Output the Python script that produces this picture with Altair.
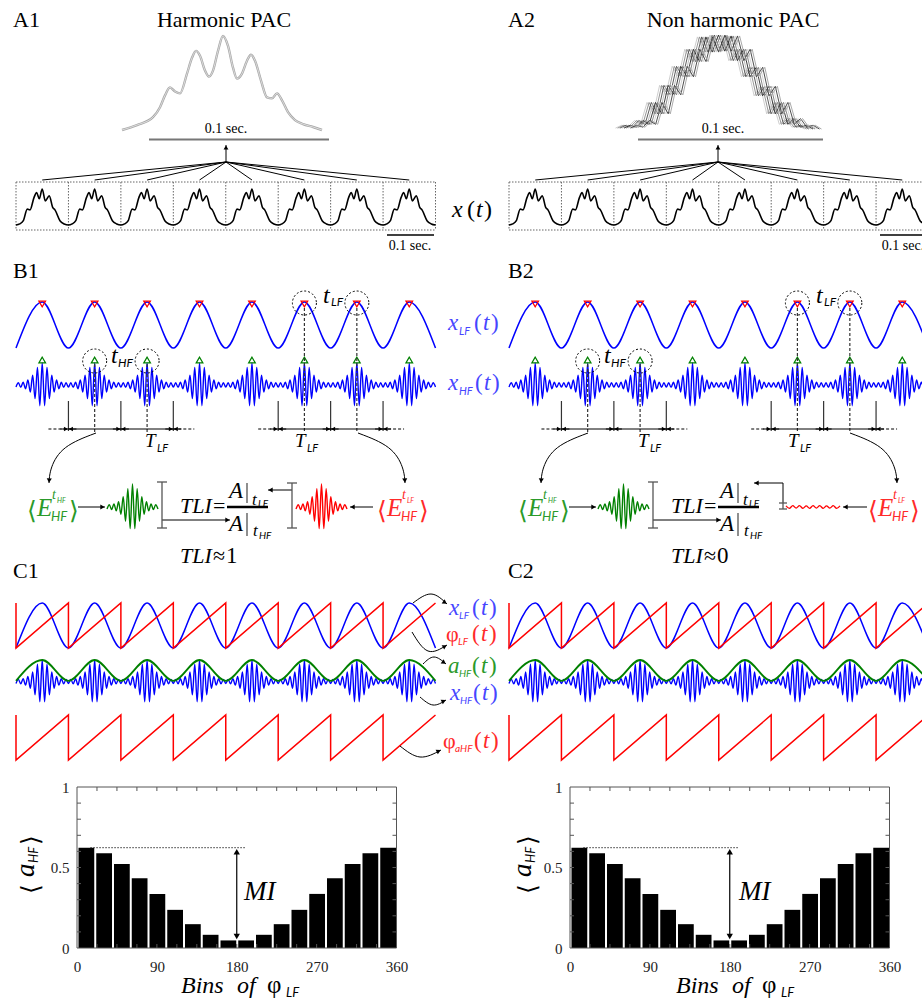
import math
import altair as alt
import pandas as pd

# ================= values =================
n_cycles = 8  # low-frequency cycles shown in every trace

# A1: averaged cycle (grey trace above the boxes): phase in cycle / normalised amplitude
avg_phase = [0, .075, .155, .19, .215, .24, .265, .29, .325, .35, .37, .39, .415, .435,
             .455, .48, .505, .53, .555, .575, .6, .625, .645, .665, .695, .725, .75,
             .775, .80, .83, .865, .905, .955, 1.0]
avg_amp = [0, .053, .137, .242, .368, .453, .41, .39, .60, .768, .842, .79, .632, .568,
           .632, .842, 1.0, .895, .663, .547, .60, .737, .80, .737, .526, .347, .337,
           .39, .316, .189, .105, .063, .032, 0]
# A1/A2: one cycle of x(t) inside each dotted box
cyc_phase = [0, .07, .14, .215, .267, .343, .394, .444, .50, .558, .634, .70, .743, .838, .92, 1.0]
cyc_amp = [0, .03, .12, .44, .42, .76, .90, .73, 1.0, .67, .81, .49, .42, .12, .03, 0]
# A2: averaged cycle for non harmonic PAC (31 samples) and phase jitter of the overlaid cycles
nh_amp = [0.02, 0.05, 0.03, 0.10, 0.06, 0.29, 0.17, 0.47, 0.37, 0.67, 0.56, 0.85, 0.72,
          0.98, 0.82, 1.00, 0.83, 0.99, 0.73, 0.85, 0.56, 0.66, 0.36, 0.46, 0.17, 0.29,
          0.06, 0.12, 0.03, 0.05, 0.01]
nh_shift = [-0.045, -0.034, -0.022, -0.011, 0.0, 0.011, 0.022, 0.034, 0.045]
# B/C: x_LF extrema (trough, peak)
lf_extrema = [-1.0, 1.0]
# B/C: x_HF half-oscillation amplitudes within one LF cycle (from the LF trough)
hf_env = [0.09, 0.10, 0.11, 0.13, 0.17, 0.23, 0.32, 0.45, 0.62, 0.80, 0.94, 1.00,
          0.94, 0.80, 0.62, 0.45, 0.32, 0.23, 0.17, 0.13, 0.11, 0.10]
# C: a_HF(t) extrema (trough, peak)
ahf_extrema = [0.03, 1.0]
# C: wrapped phase range (degrees)
phase_span = [-180, 180]
# B2: residual red trace
flat_hf = [0.05, -0.06, 0.06, -0.05, 0.06, -0.06, 0.05, -0.06, 0.06, -0.05, 0.06, -0.06,
           0.05, -0.05, 0.06, -0.06, 0.05]
# C1/C2 histogram: bins of phi_LF and mean a_HF
bin_edges = list(range(0, 361, 20))
ahf_mean = [0.623, 0.588, 0.522, 0.433, 0.336, 0.237, 0.148, 0.082, 0.047, 0.047, 0.082,
            0.148, 0.237, 0.336, 0.433, 0.522, 0.588, 0.623]

# ================= layout / style =================
W, H = 922, 1000
DX = 493          # offset of the right column
DXB = 491         # offset of the B2 formula row
X0, X1 = 16.0, 435.5
P = (X1 - X0) / n_cycles
SERIF, SANS, SYM = "Liberation Serif", "Lato", "DejaVu Sans"
BLUE, RED, GREEN = "#0000ff", "#ff0000", "#008000"
TBLUE, TRED, TGREEN = "#4646ff", "#ff2a2a", "#2a9a2a"
GREYS = ["#c8c8c8", "#8a8a8a", "#4a4a4a", "#b4b4b4", "#262626", "#7a7a7a", "#d0d0d0", "#3a3a3a", "#a0a0a0"]


def tx(t, dx=0):
    return X0 + dx + t * P


def lin(dom, rng):
    return alt.Scale(domain=list(dom), range=list(rng), nice=False, zero=False)


def PXX():
    return lin([0, W], [0, W])


def PXY():
    return lin([0, H], [0, H])


def tscale(dx):
    return lin([0, n_cycles], [X0 + dx, X1 + dx])


# ================= tables =================
nh = 2 * n_cycles + 1
lf_df = pd.DataFrame({"t": [j * 0.5 for j in range(nh)], "v": [lf_extrema[j % 2] for j in range(nh)]})
ahf_df = pd.DataFrame({"t": [j * 0.5 for j in range(nh)], "v": [ahf_extrema[j % 2] for j in range(nh)]})
rows = []
for k in range(n_cycles):
    for m, e in enumerate(hf_env):
        rows.append({"t": k + m / len(hf_env), "v": (1 if m % 2 else -1) * e})
rows.append({"t": n_cycles, "v": -hf_env[0]})
hf_df = pd.DataFrame(rows)
burst_df = pd.DataFrame([{"p": m / len(hf_env), "v": (1 if m % 2 else -1) * e} for m, e in enumerate(hf_env)]
                        + [{"p": 1.0, "v": -hf_env[0]}])
flat_df = pd.DataFrame({"p": [i / (len(flat_hf) - 1) for i in range(len(flat_hf))], "v": flat_hf})
rows = []
for k in range(n_cycles):
    rows.append({"t": k, "v": phase_span[1], "o": 2 * k})
    rows.append({"t": k, "v": phase_span[0], "o": 2 * k + 1})
rows.append({"t": n_cycles, "v": phase_span[1], "o": 2 * n_cycles})
saw_df = pd.DataFrame(rows)
rows = []
for k in range(n_cycles):
    for i, (p, a) in enumerate(zip(cyc_phase, cyc_amp)):
        if k > 0 and i == 0:
            continue
        rows.append({"t": k + p, "v": a})
cyc_df = pd.DataFrame(rows)
avg_df = pd.DataFrame({"p": avg_phase, "v": avg_amp})
rows = []
for g, s in enumerate(nh_shift):
    for i, a in enumerate(nh_amp):
        rows.append({"g": g, "p": i / (len(nh_amp) - 1) + s, "v": a, "c": GREYS[g % len(GREYS)]})
nh_df = pd.DataFrame(rows)
hist_df = pd.DataFrame({"lo": bin_edges[:-1], "hi": bin_edges[1:], "v": ahf_mean})

outer = []
inner = []


def sig(df, xdom, xr, ydom, yr, color=None, width=1.4, interp="monotone", detail=None,
        order=None, colorfield=None, x="t", y="v"):
    props = {"strokeWidth": width, "interpolate": interp}
    if color:
        props["color"] = color
    enc = {"x": alt.X(f"{x}:Q", scale=lin(xdom, xr), axis=None),
           "y": alt.Y(f"{y}:Q", scale=lin(ydom, yr), axis=None)}
    if detail:
        enc["detail"] = alt.Detail(f"{detail}:N")
    if order:
        enc["order"] = alt.Order(f"{order}:Q")
    if colorfield:
        enc["color"] = alt.Color(f"{colorfield}:N", scale=None)
    outer.append(alt.Chart(df).mark_line(**props).encode(**enc))


def tpoints(ts, dx, y, **mark):
    outer.append(alt.Chart(pd.DataFrame({"t": ts})).mark_point(opacity=1, **mark).encode(
        x=alt.X("t:Q", scale=tscale(dx), axis=None), y=alt.value(y)))


def trules(ts, dx, y1, y2, **mark):
    outer.append(alt.Chart(pd.DataFrame({"t": ts})).mark_rule(**mark).encode(
        x=alt.X("t:Q", scale=tscale(dx), axis=None), y=alt.value(y1), y2=alt.value(y2)))


def thline(a, b, dx, y, **mark):
    outer.append(alt.Chart(pd.DataFrame({"a": [a], "b": [b]})).mark_rule(**mark).encode(
        x=alt.X("a:Q", scale=tscale(dx), axis=None), x2="b:Q", y=alt.value(y)))


LINES, HEADS, TXT = {}, [], {}


def line(pts, color="black", width=1.0, dash=None, interp="linear"):
    LINES.setdefault((color, width, tuple(dash) if dash else None, interp), []).append(pts)


def arrow(pts, color="black", width=1.0, dash=None, interp="linear", ang=None, size=26):
    line(pts, color, width, dash, interp)
    (x1, y1), (x2, y2) = pts[-2], pts[-1]
    if ang is None:
        ang = math.degrees(math.atan2(y2 - y1, x2 - x1))
    r = math.radians(ang)
    HEADS.append({"x": x2 - 2.5 * math.cos(r), "y": y2 - 2.5 * math.sin(r), "a": ang % 360, "c": color, "z": size})


def txt(s, x, y, size, color="black", kind="mi", align="left", ang=0):
    TXT.setdefault((kind, align), []).append({"s": s, "x": x, "y": y, "z": size, "c": color, "a": ang})


def sub(s, x, y, size, color="black", ang=0):
    txt(s, x, y, size, color, "sub", ang=ang)


def bracket(x, y1, y2, c=5):
    line([(x - c, y1), (x + c, y1)], "#555", 1.3)
    line([(x, y1), (x, y2)], "#555", 1.3)
    line([(x - c, y2), (x + c, y2)], "#555", 1.3)


def paren_t(x, y, size, color):
    txt("(", x, y, size, color, "mu")
    txt("t", x + 9, y, size, color, "mi")
    txt(")", x + 17, y, size, color, "mu")


# ================= A panels =================
txt("A1", 13, 27, 22, kind="serif")
txt("Harmonic PAC", 224, 27, 22, kind="serif", align="center")
txt("A2", 508, 27, 22, kind="serif")
txt("Non harmonic PAC", 733, 27, 22, kind="serif", align="center")

sig(avg_df, [0, 1], [122, 322], [0, 1], [130, 36], color="#a8a8a8", width=2.4, x="p")
sig(avg_df, [0, 1], [122, 322], [0, 1], [130, 36], color="#e2e2e2", width=0.9, x="p")
sig(nh_df, [0, 1], [624, 813], [0, 1], [130, 35], width=0.9, x="p", detail="g", colorfield="c",
    interp="linear")

for dx, bar, apex, lab in [(0, (149, 329), 226, 226), (DX, (638, 823), 718, 723)]:
    line([(bar[0], 139.5), (bar[1], 139.5)], "#777", 2)
    txt("0.1 sec.", lab, 133, 14, kind="serif", align="center")
    arrow([(apex, 162), (apex, 145)], size=24)
    for k in range(n_cycles):
        line([(apex, 162), (tx(k + 0.5, dx), 180)], "black", 1.0)
    trules(list(range(n_cycles + 1)), dx, 182, 230, color="#666", strokeDash=[1.5, 1.5], strokeWidth=1)
    thline(0, n_cycles, dx, 182, color="#666", strokeDash=[1.5, 1.5], strokeWidth=1)
    thline(0, n_cycles, dx, 230, color="#666", strokeDash=[1.5, 1.5], strokeWidth=1)
    sig(cyc_df, [0, n_cycles], [X0 + dx, X1 + dx], [0, 1], [225, 189], color="black", width=1.6)
    line([(387 + dx, 235), (434 + dx, 235)], "black", 1.5)
    txt("0.1 sec.", 410 + dx, 250, 14, kind="serif", align="center")

txt("x", 452, 217, 24)
paren_t(467, 217, 24, "black")

# ================= B panels =================
txt("B1", 13, 278, 22, kind="serif")
txt("B2", 508, 278, 22, kind="serif")
peaks = [k + 0.5 for k in range(n_cycles)]
for dx in [0, DX]:
    sig(lf_df, [0, n_cycles], [X0 + dx, X1 + dx], [-1, 1], [348, 302], color=BLUE, width=1.5)
    sig(hf_df, [0, n_cycles], [X0 + dx, X1 + dx], [-1, 1], [407, 363], color=BLUE, width=1.4)
    tpoints(peaks, dx, 304, shape="triangle-down", filled=False, color=RED, size=45, strokeWidth=1.2)
    tpoints(peaks, dx, 360, shape="triangle-up", filled=False, color=GREEN, size=45, strokeWidth=1.2)
    tpoints([5.5, 6.5], dx, 303, shape="circle", filled=False, color="black", size=576,
            strokeDash=[2, 2], strokeWidth=1)
    tpoints([1.5, 2.5], dx, 361, shape="circle", filled=False, color="black", size=576,
            strokeDash=[2, 2], strokeWidth=1)
    trules([1, 2, 3, 5, 6, 7], dx, 401, 431, color="#333", strokeWidth=1.2)
    trules([1.5, 2.5], dx, 364, 432, color="#333", strokeDash=[3, 2], strokeWidth=1.2)
    trules([5.5, 6.5], dx, 308, 432, color="#333", strokeDash=[3, 2], strokeWidth=1.2)
    for a, b in [(1, 3), (5, 7)]:
        line([(tx(a, dx) - 20, 429), (tx(a, dx), 429)], "black", 1.0, [3, 2])
        line([(tx(b, dx), 429), (tx(b, dx) + 21, 429)], "black", 1.0, [3, 2])
        line([(tx(a, dx), 429), (tx(b, dx), 429)], "black", 1.0)
        for t in range(a, b + 1):
            arrow([(tx(t, dx) - 8, 429), (tx(t, dx), 429)], size=22)
            arrow([(tx(t, dx) + 8, 429), (tx(t, dx), 429)], size=22)
    txt("t", 323 + dx, 303, 24)
    sub("LF", 331 + dx, 306, 12)
    txt("t", 111 + dx, 363, 24)
    sub("HF", 118 + dx, 367, 12)
    txt("T", 145 + dx, 447, 19)
    sub("LF", 157 + dx, 452, 11)
    txt("T", 295 + dx, 447, 19)
    sub("LF", 307 + dx, 452, 11)
    s = 0 if dx == 0 else DX - 1
    arrow([(96 + s, 433), (62 + s, 446), (50 + s, 468), (49 + s, 483)], interp="basis")
    arrow([(358 + s, 433), (392 + s, 446), (404 + s, 468), (405 + s, 483)], interp="basis")

txt("x", 448, 330, 23, TBLUE)
sub("LF", 459, 335, 11, TBLUE)
paren_t(474, 330, 23, TBLUE)
txt("x", 448, 390, 23, TBLUE)
sub("HF", 459, 395, 11, TBLUE)
paren_t(475, 390, 23, TBLUE)


def e_expr(x0, color, sup):
    txt("⟨", x0, 519, 25, color, "sym")
    txt("E", x0 + 10, 516, 25, color)
    txt("t", x0 + 25, 499, 14, color)
    sub(sup, x0 + 30, 503, 7, color)
    sub("HF", x0 + 24, 521, 13, color)
    txt("⟩", x0 + 42, 519, 25, color, "sym")


for dx, harmonic in [(0, True), (DXB, False)]:
    e_expr(27 + dx, TGREEN, "HF")
    arrow([(78 + dx, 507), (105 + dx, 507)])
    sig(burst_df, [0, 1], [107 + dx, 158 + dx], [-1, 1], [530, 484], color=GREEN, width=1.4, x="p")
    bracket(162 + dx, 482, 528)
    arrow([(162 + dx, 520), (230 + dx, 520)])
    txt("TLI", 180 + dx, 513, 22)
    txt("=", 213 + dx, 513, 22, kind="mu")
    line([(227 + dx, 507), (268 + dx, 507)], "black", 2.5)
    txt("A", 229 + dx, 498, 23)
    line([(247 + dx, 483), (247 + dx, 503)], "#444", 1.2)
    txt("t", 252 + dx, 505, 17)
    sub("LF", 258 + dx, 507, 10)
    txt("A", 229 + dx, 531, 23)
    line([(247 + dx, 513), (247 + dx, 536)], "#444", 1.2)
    txt("t", 253 + dx, 536, 17)
    sub("HF", 259 + dx, 539, 10)
    txt("TLI", 180 + dx, 563, 22)
    txt("≈", 213 + dx, 563, 22, kind="mu")
    txt("1" if harmonic else "0", 226 + dx, 563, 23, kind="mu")
    if harmonic:
        bracket(292 + dx, 483, 528)
        arrow([(292 + dx, 490), (268 + dx, 490)])
        sig(burst_df, [0, 1], [296 + dx, 347 + dx], [-1, 1], [530, 484], color=RED, width=1.4, x="p")
        arrow([(373 + dx, 507), (350 + dx, 507)])
    else:
        bracket(292 + dx, 503, 509, c=4)
        arrow([(292 + dx, 503), (292 + dx, 483), (263 + dx, 483)])
        sig(flat_df, [0, 1], [295 + dx, 349 + dx], [-1, 1], [530, 484], color=RED, width=1.3, x="p")
        arrow([(376 + dx, 507), (352 + dx, 507)])
    e_expr(377 + dx, TRED, "LF")

# ================= C panels =================
txt("C1", 13, 578, 22, kind="serif")
txt("C2", 508, 578, 22, kind="serif")
for dx in [0, DX]:
    xr = [X0 + dx, X1 + dx]
    sig(lf_df, [0, n_cycles], xr, [-1, 1], [648, 603], color=BLUE, width=1.5)
    sig(saw_df, [0, n_cycles], xr, phase_span, [648, 603], color=RED, width=1.5, interp="linear", order="o")
    sig(hf_df, [0, n_cycles], xr, [-1, 1], [703, 660], color=BLUE, width=1.4)
    sig(ahf_df, [0, n_cycles], xr, [-1, 1], [703, 660], color=GREEN, width=1.8)
    sig(saw_df, [0, n_cycles], xr, phase_span, [760, 715], color=RED, width=1.5, interp="linear", order="o")

txt("x", 449, 615, 23, TBLUE)
sub("LF", 459, 619, 10, TBLUE)
paren_t(472, 615, 23, TBLUE)
txt("φ", 446, 641, 22, TRED, "phi")
sub("LF", 458, 645, 10, TRED)
paren_t(472, 641, 23, TRED)
txt("a", 448, 673, 23, TGREEN)
sub("HF", 459, 677, 10, TGREEN)
paren_t(472, 673, 23, TGREEN)
txt("x", 450, 700, 23, TBLUE)
sub("HF", 460, 704, 10, TBLUE)
paren_t(473, 700, 23, TBLUE)
txt("φ", 443, 748, 22, TRED, "phi")
sub("aHF", 455, 752, 10, TRED)
paren_t(474, 748, 23, TRED)
arrow([(413, 603), (431, 594), (447, 604)], interp="natural", ang=35)
arrow([(412, 632), (428, 651), (447, 645)], interp="natural", ang=330)
arrow([(423, 664), (434, 657), (446, 664)], interp="natural", ang=35)
arrow([(420, 697), (433, 705), (446, 700)], interp="natural", ang=335)
arrow([(400, 746), (420, 757), (441, 750)], interp="natural", ang=335)

# ================= histograms =================
YTOP, YBOT = 787, 948
for dx in [0, DX]:
    xs = lambda: lin([0, 360], [77 + dx, 396.5 + dx])
    ys = lambda: lin([0, 1], [YBOT, YTOP])
    xaxis = alt.Axis(orient="bottom", offset=YBOT - H, values=[0, 90, 180, 270, 360], domain=False,
                     ticks=False, tickSize=0, labelPadding=11, labelFont=SERIF, labelFontSize=15,
                     labelColor="#222", grid=False, title=None, labelFlush=False, labelOverlap=False)
    yaxis = alt.Axis(orient="left", offset=-(77 + dx), values=[0, 0.5, 1], format="~g", domain=False,
                     ticks=False, tickSize=0, labelPadding=8, labelFont=SERIF, labelFontSize=15,
                     labelColor="#222", grid=False, title=None, labelFlush=False, labelOverlap=False)
    outer.append(alt.Chart(hist_df).mark_bar(color="black", binSpacing=2).encode(
        x=alt.X("lo:Q", bin="binned", scale=xs(), axis=xaxis), x2="hi:Q",
        y=alt.Y("v:Q", scale=ys(), axis=yaxis)))
    outer.append(alt.Chart(pd.DataFrame({"a": [0], "b": [360], "c": [0], "d": [1]})).mark_rect(
        filled=False, color="#555", strokeWidth=1).encode(
        x=alt.X("a:Q", scale=xs(), axis=None), x2="b:Q", y=alt.Y("c:Q", scale=ys(), axis=None), y2="d:Q"))
    yt = [i / 10 for i in range(1, 10)]
    xt = [i * 22.5 for i in range(1, 16)]
    for xv, off in [(0, 2), (360, -2)]:
        outer.append(alt.Chart(pd.DataFrame({"x": [xv] * len(yt), "y": yt})).mark_tick(
            orient="horizontal", size=4, thickness=1, xOffset=off, color="#555", opacity=1).encode(
            x=alt.X("x:Q", scale=xs(), axis=None), y=alt.Y("y:Q", scale=ys(), axis=None)))
    for yv, off in [(0, -2), (1, 2)]:
        outer.append(alt.Chart(pd.DataFrame({"x": xt, "y": [yv] * len(xt)})).mark_tick(
            orient="vertical", size=4, thickness=1, yOffset=off, color="#555", opacity=1).encode(
            x=alt.X("x:Q", scale=xs(), axis=None), y=alt.Y("y:Q", scale=ys(), axis=None)))
    top, low = max(ahf_mean), min(ahf_mean)
    outer.append(alt.Chart(pd.DataFrame({"a": [15], "b": [190], "y": [top]})).mark_rule(
        color="#333", strokeDash=[1.5, 1.5], strokeWidth=1).encode(
        x=alt.X("a:Q", scale=xs(), axis=None), x2="b:Q", y=alt.Y("y:Q", scale=ys(), axis=None)))
    outer.append(alt.Chart(pd.DataFrame({"x": [180], "a": [top - 0.03], "b": [low + 0.03]})).mark_rule(
        color="black", strokeWidth=1.2).encode(
        x=alt.X("x:Q", scale=xs(), axis=None), y=alt.Y("a:Q", scale=ys(), axis=None), y2="b:Q"))
    outer.append(alt.Chart(pd.DataFrame({"x": [180], "y": [top]})).mark_point(
        shape="triangle-up", filled=True, color="black", size=40, opacity=1, yOffset=4).encode(
        x=alt.X("x:Q", scale=xs(), axis=None), y=alt.Y("y:Q", scale=ys(), axis=None)))
    outer.append(alt.Chart(pd.DataFrame({"x": [180], "y": [low]})).mark_point(
        shape="triangle-down", filled=True, color="black", size=40, opacity=1, yOffset=-4).encode(
        x=alt.X("x:Q", scale=xs(), axis=None), y=alt.Y("y:Q", scale=ys(), axis=None)))

for dx in [0, 495]:
    txt("MI", 244 + dx, 900, 27)
    txt("Bins", 181 + dx, 993, 24)
    txt("of", 237 + dx, 993, 24)
    txt("φ", 267 + dx, 993, 25, kind="phi")
    sub("LF", 286 + dx, 997, 13)
for dx in [0, 497]:
    txt("⟨", 39 + dx, 894, 25, kind="sym", ang=270)
    txt("a", 34 + dx, 877, 27, ang=270)
    sub("HF", 38 + dx, 863, 13, ang=270)
    txt("⟩", 39 + dx, 845, 25, kind="sym", ang=270)

# ================= pixel-space annotation layers =================
for (color, width, dash, interp), polys in LINES.items():
    rows = [{"g": g, "o": o, "x": x, "y": y} for g, poly in enumerate(polys) for o, (x, y) in enumerate(poly)]
    props = dict(color=color, strokeWidth=width, interpolate=interp)
    if dash:
        props["strokeDash"] = list(dash)
    inner.append(alt.Chart(pd.DataFrame(rows)).mark_line(**props).encode(
        x=alt.X("x:Q", scale=PXX(), axis=None), y=alt.Y("y:Q", scale=PXY(), axis=None),
        detail="g:N", order="o:Q"))
inner.append(alt.Chart(pd.DataFrame(HEADS)).mark_point(shape="triangle-right", filled=True, opacity=1).encode(
    x=alt.X("x:Q", scale=PXX(), axis=None), y=alt.Y("y:Q", scale=PXY(), axis=None),
    angle=alt.Angle("a:Q", scale=None), color=alt.Color("c:N", scale=None), size=alt.Size("z:Q", scale=None)))
FONTS = {"serif": (SERIF, "normal"), "mi": (SERIF, "italic"), "mu": (SERIF, "normal"),
         "sub": (SANS, "italic"), "sym": (SYM, "normal"), "phi": (SERIF, "normal")}
for (kind, align), rows in TXT.items():
    font, style = FONTS[kind]
    inner.append(alt.Chart(pd.DataFrame(rows)).mark_text(font=font, fontStyle=style, align=align,
                                                          baseline="alphabetic").encode(
        x=alt.X("x:Q", scale=PXX(), axis=None), y=alt.Y("y:Q", scale=PXY(), axis=None),
        text=alt.Text("s:N"), size=alt.Size("z:Q", scale=None), color=alt.Color("c:N", scale=None),
        angle=alt.Angle("a:Q", scale=None)))

chart = alt.layer(*outer, alt.layer(*inner)).resolve_scale(x="independent", y="independent").properties(
    width=W, height=H, padding=0, autosize=alt.AutoSizeParams(type="none"), background="white"
).configure_view(stroke="transparent")

chart.save("out.html", embed_options={"renderer": "svg", "actions": False})
